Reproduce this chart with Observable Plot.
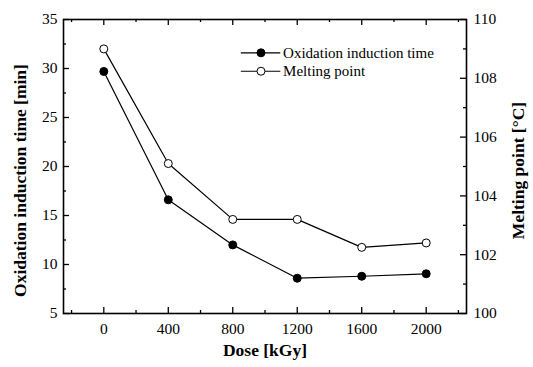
<!DOCTYPE html>
<html>
<head>
<meta charset="utf-8">
<script src="https://cdn.jsdelivr.net/npm/d3@7"></script>
<script src="https://cdn.jsdelivr.net/npm/@observablehq/plot@0.6"></script>
<style>
  html, body { margin: 0; padding: 0; background: #fff; }
  #chart svg { display: block; }
  #chart svg text { font-family: 'Liberation Serif', 'Times New Roman', serif; }
  #chart svg g[aria-label$="tick label"] text { font-size: 15.5px; font-variant: normal; }
</style>
</head>
<body>
<div id="chart"></div>
<script>
// Dose steps and the two measured properties
const dose = [0, 400, 800, 1200, 1600, 2000];
const oxidationTime = [29.7, 16.6, 12.0, 8.6, 8.8, 9.05];      // min
const meltingPoint = [109.0, 105.1, 103.2, 103.2, 102.25, 102.4]; // °C

// Tick values
const doseTicks = [0, 400, 800, 1200, 1600, 2000];
const doseMinorTicks = [-200, 200, 600, 1000, 1400, 1800, 2200];
const timeTicks = [5, 10, 15, 20, 25, 30, 35];
const timeMinorTicks = [7.5, 12.5, 17.5, 22.5, 27.5, 32.5];
const meltTicks = [100, 102, 104, 106, 108, 110];
const meltMinorTicks = [101, 103, 105, 107, 109];

const seriesNames = ["Oxidation induction time", "Melting point"];

// The melting point shares the left scale: 100–110 °C maps onto 5–35 min
const toLeft = (t) => 5 + (t - 100) * 3;
const fromLeft = (v) => String(Math.round((100 + (v - 5) / 3) * 100) / 100);

const oitData = dose.map((d, i) => ({dose: d, value: oxidationTime[i]}));
const mpData = dose.map((d, i) => ({dose: d, value: toLeft(meltingPoint[i])}));

const W = 533, H = 367;
const M = {top: 19, right: 67, bottom: 54, left: 63};
const innerH = H - M.top - M.bottom;
const innerW = W - M.left - M.right;
const major = 6, minor = 3;
const serif = "'Liberation Serif', 'Times New Roman', serif";

// Legend rows sit in the upper right of the frame (data units)
const legend = seriesNames.map((name, i) => ({
  name,
  y: 31.6 - i * 1.88,
  fill: i === 0 ? "black" : "white"
}));
const legendX1 = 850, legendX2 = 1095, legendDot = 975, legendText = 1112;

const tickStyle = {stroke: "black", strokeWidth: 1.3};
const labelStyle = {fontFamily: serif, fontSize: 15.5, fill: "black", label: null, tickSize: 0};
const titleStyle = {fontFamily: serif, fontWeight: "bold", fontSize: 17.5, fill: "black", textAnchor: "middle"};

const chart = Plot.plot({
  width: W,
  height: H,
  marginTop: M.top,
  marginRight: M.right,
  marginBottom: M.bottom,
  marginLeft: M.left,
  style: {fontFamily: serif, fontSize: "15px", color: "black", background: "white"},
  x: {domain: [-250, 2250]},
  y: {domain: [5, 35]},
  marks: [
    // inward ticks on all four sides
    Plot.tickX(doseTicks, {x: d => d, insetTop: innerH - major, ...tickStyle}),
    Plot.tickX(doseMinorTicks, {x: d => d, insetTop: innerH - minor, ...tickStyle}),
    Plot.tickX(doseTicks, {x: d => d, insetBottom: innerH - major, ...tickStyle}),
    Plot.tickX(doseMinorTicks, {x: d => d, insetBottom: innerH - minor, ...tickStyle}),
    Plot.tickY(timeTicks, {y: d => d, insetRight: innerW - major, ...tickStyle}),
    Plot.tickY(timeMinorTicks, {y: d => d, insetRight: innerW - minor, ...tickStyle}),
    Plot.tickY(meltTicks.map(toLeft), {y: d => d, insetLeft: innerW - major, ...tickStyle}),
    Plot.tickY(meltMinorTicks.map(toLeft), {y: d => d, insetLeft: innerW - minor, ...tickStyle}),

    // tick labels
    Plot.axisX(doseTicks, {...labelStyle, tickPadding: 9, tickFormat: d => String(d)}),
    Plot.axisY(timeTicks, {...labelStyle, anchor: "left", tickPadding: 6, tickFormat: d => String(d)}),
    Plot.axisY(meltTicks.map(toLeft), {...labelStyle, anchor: "right", tickPadding: 7, tickFormat: fromLeft}),

    Plot.frame({stroke: "black", strokeWidth: 1.6}),

    // series
    Plot.line(oitData, {x: "dose", y: "value", stroke: "black", strokeWidth: 1.2}),
    Plot.line(mpData, {x: "dose", y: "value", stroke: "black", strokeWidth: 1.2}),
    Plot.dot(oitData, {x: "dose", y: "value", r: 4, fill: "black", stroke: "black", strokeWidth: 1}),
    Plot.dot(mpData, {x: "dose", y: "value", r: 4, fill: "white", stroke: "black", strokeWidth: 1}),

    // legend
    Plot.link(legend, {x1: legendX1, x2: legendX2, y1: "y", y2: "y", stroke: "black", strokeWidth: 1.2}),
    Plot.dot(legend, {x: legendDot, y: "y", r: 4, fill: "fill", stroke: "black", strokeWidth: 1}),
    Plot.text(legend, {x: legendText, y: "y", text: "name", textAnchor: "start", fontFamily: serif, fontSize: 15, fill: "black"}),

    // titles
    Plot.text(["Oxidation induction time [min]"], {...titleStyle, frameAnchor: "left", dx: -43, dy: 14, rotate: -90}),
    Plot.text(["Melting point [°C]"], {...titleStyle, frameAnchor: "right", dx: 52, dy: 4, rotate: -90}),
    Plot.text(["Dose [kGy]"], {...titleStyle, frameAnchor: "bottom", dy: 42})
  ]
});

document.getElementById("chart").append(chart);
</script>
</body>
</html>
